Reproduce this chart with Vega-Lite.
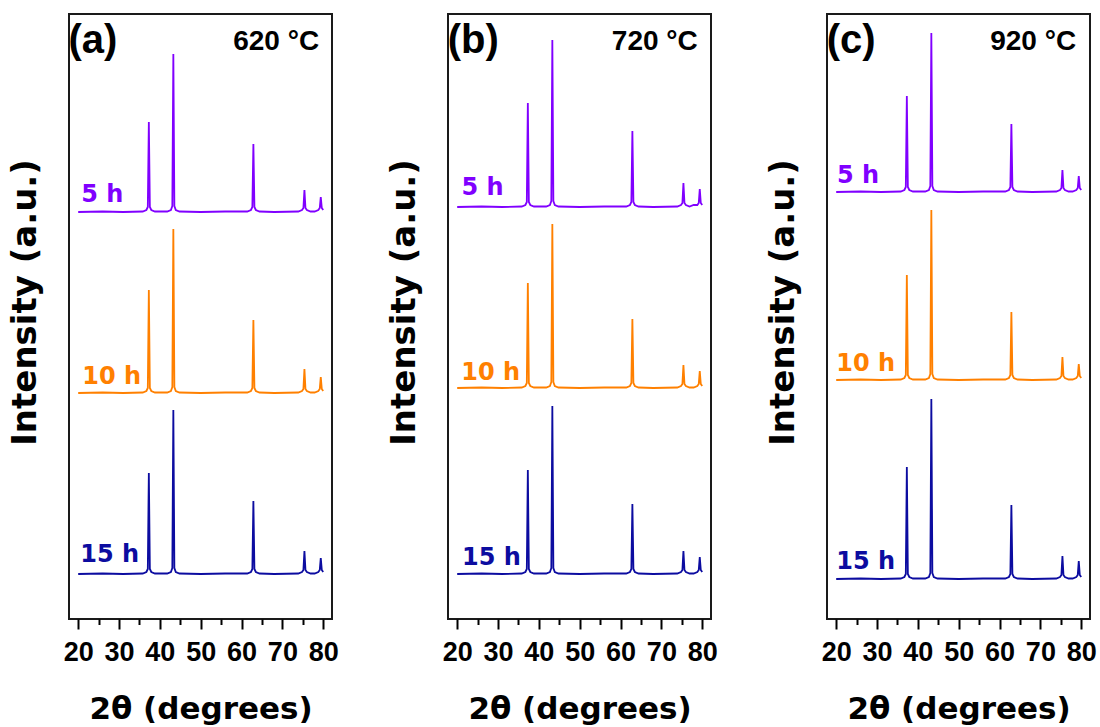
{
  "$schema": "https://vega.github.io/schema/vega-lite/v6.json",
  "background": "white",
  "padding": {"left": 7, "top": 13, "right": 0, "bottom": 0},
  "config": {
    "view": {"stroke": "#1a1a1a", "strokeWidth": 2},
    "concat": {"spacing": 46},
    "axis": {"grid": false, "domain": false}
  },
  "datasets": {
    "xrd": [
      {"p":"a","s":"5 h","x":20,"y":407},{"p":"a","s":"5 h","x":26,"y":407.5},{"p":"a","s":"5 h","x":31,"y":407},{"p":"a","s":"5 h","x":35.8,"y":407.5},{"p":"a","s":"5 h","x":36.7,"y":409},{"p":"a","s":"5 h","x":37.05,"y":412},{"p":"a","s":"5 h","x":37.3,"y":497},{"p":"a","s":"5 h","x":37.55,"y":412},{"p":"a","s":"5 h","x":37.9,"y":409},{"p":"a","s":"5 h","x":38.8,"y":407.5},
      {"p":"a","s":"5 h","x":41.8,"y":407.5},{"p":"a","s":"5 h","x":42.7,"y":409},{"p":"a","s":"5 h","x":43.05,"y":413},{"p":"a","s":"5 h","x":43.3,"y":565},{"p":"a","s":"5 h","x":43.55,"y":413},{"p":"a","s":"5 h","x":43.9,"y":409},{"p":"a","s":"5 h","x":44.8,"y":407.5},{"p":"a","s":"5 h","x":50,"y":407},{"p":"a","s":"5 h","x":56,"y":407.5},
      {"p":"a","s":"5 h","x":61.4,"y":407.5},{"p":"a","s":"5 h","x":62.3,"y":409},{"p":"a","s":"5 h","x":62.65,"y":412},{"p":"a","s":"5 h","x":62.9,"y":475},{"p":"a","s":"5 h","x":63.15,"y":412},{"p":"a","s":"5 h","x":63.5,"y":409},{"p":"a","s":"5 h","x":64.4,"y":407.5},{"p":"a","s":"5 h","x":68,"y":407},
      {"p":"a","s":"5 h","x":73.9,"y":407.5},{"p":"a","s":"5 h","x":74.8,"y":409},{"p":"a","s":"5 h","x":75.15,"y":411},{"p":"a","s":"5 h","x":75.4,"y":429},{"p":"a","s":"5 h","x":75.65,"y":411},{"p":"a","s":"5 h","x":76,"y":409},{"p":"a","s":"5 h","x":76.9,"y":407.5},
      {"p":"a","s":"5 h","x":77.9,"y":407.5},{"p":"a","s":"5 h","x":78.8,"y":409},{"p":"a","s":"5 h","x":79.15,"y":411},{"p":"a","s":"5 h","x":79.4,"y":422},{"p":"a","s":"5 h","x":79.65,"y":411},{"p":"a","s":"5 h","x":80,"y":409},

      {"p":"a","s":"10 h","x":20,"y":226},{"p":"a","s":"10 h","x":26,"y":226.5},{"p":"a","s":"10 h","x":31,"y":226},{"p":"a","s":"10 h","x":35.8,"y":226.5},{"p":"a","s":"10 h","x":36.7,"y":228},{"p":"a","s":"10 h","x":37.05,"y":231},{"p":"a","s":"10 h","x":37.3,"y":329},{"p":"a","s":"10 h","x":37.55,"y":231},{"p":"a","s":"10 h","x":37.9,"y":228},{"p":"a","s":"10 h","x":38.8,"y":226.5},
      {"p":"a","s":"10 h","x":41.8,"y":226.5},{"p":"a","s":"10 h","x":42.7,"y":228},{"p":"a","s":"10 h","x":43.05,"y":232},{"p":"a","s":"10 h","x":43.3,"y":390},{"p":"a","s":"10 h","x":43.55,"y":232},{"p":"a","s":"10 h","x":43.9,"y":228},{"p":"a","s":"10 h","x":44.8,"y":226.5},{"p":"a","s":"10 h","x":50,"y":226},{"p":"a","s":"10 h","x":56,"y":226.5},
      {"p":"a","s":"10 h","x":61.4,"y":226.5},{"p":"a","s":"10 h","x":62.3,"y":228},{"p":"a","s":"10 h","x":62.65,"y":231},{"p":"a","s":"10 h","x":62.9,"y":299},{"p":"a","s":"10 h","x":63.15,"y":231},{"p":"a","s":"10 h","x":63.5,"y":228},{"p":"a","s":"10 h","x":64.4,"y":226.5},{"p":"a","s":"10 h","x":68,"y":226},
      {"p":"a","s":"10 h","x":73.9,"y":226.5},{"p":"a","s":"10 h","x":74.8,"y":228},{"p":"a","s":"10 h","x":75.15,"y":230},{"p":"a","s":"10 h","x":75.4,"y":250},{"p":"a","s":"10 h","x":75.65,"y":230},{"p":"a","s":"10 h","x":76,"y":228},{"p":"a","s":"10 h","x":76.9,"y":226.5},
      {"p":"a","s":"10 h","x":77.9,"y":226.5},{"p":"a","s":"10 h","x":78.8,"y":228},{"p":"a","s":"10 h","x":79.15,"y":230},{"p":"a","s":"10 h","x":79.4,"y":242},{"p":"a","s":"10 h","x":79.65,"y":230},{"p":"a","s":"10 h","x":80,"y":228},

      {"p":"a","s":"15 h","x":20,"y":45},{"p":"a","s":"15 h","x":26,"y":45.5},{"p":"a","s":"15 h","x":31,"y":45},{"p":"a","s":"15 h","x":35.8,"y":45.5},{"p":"a","s":"15 h","x":36.7,"y":47},{"p":"a","s":"15 h","x":37.05,"y":50},{"p":"a","s":"15 h","x":37.3,"y":146},{"p":"a","s":"15 h","x":37.55,"y":50},{"p":"a","s":"15 h","x":37.9,"y":47},{"p":"a","s":"15 h","x":38.8,"y":45.5},
      {"p":"a","s":"15 h","x":41.8,"y":45.5},{"p":"a","s":"15 h","x":42.7,"y":47},{"p":"a","s":"15 h","x":43.05,"y":51},{"p":"a","s":"15 h","x":43.3,"y":209},{"p":"a","s":"15 h","x":43.55,"y":51},{"p":"a","s":"15 h","x":43.9,"y":47},{"p":"a","s":"15 h","x":44.8,"y":45.5},{"p":"a","s":"15 h","x":50,"y":45},{"p":"a","s":"15 h","x":56,"y":45.5},
      {"p":"a","s":"15 h","x":61.4,"y":45.5},{"p":"a","s":"15 h","x":62.3,"y":47},{"p":"a","s":"15 h","x":62.65,"y":50},{"p":"a","s":"15 h","x":62.9,"y":118},{"p":"a","s":"15 h","x":63.15,"y":50},{"p":"a","s":"15 h","x":63.5,"y":47},{"p":"a","s":"15 h","x":64.4,"y":45.5},{"p":"a","s":"15 h","x":68,"y":45},
      {"p":"a","s":"15 h","x":73.9,"y":45.5},{"p":"a","s":"15 h","x":74.8,"y":47},{"p":"a","s":"15 h","x":75.15,"y":49},{"p":"a","s":"15 h","x":75.4,"y":68},{"p":"a","s":"15 h","x":75.65,"y":49},{"p":"a","s":"15 h","x":76,"y":47},{"p":"a","s":"15 h","x":76.9,"y":45.5},
      {"p":"a","s":"15 h","x":77.9,"y":45.5},{"p":"a","s":"15 h","x":78.8,"y":47},{"p":"a","s":"15 h","x":79.15,"y":49},{"p":"a","s":"15 h","x":79.4,"y":61},{"p":"a","s":"15 h","x":79.65,"y":49},{"p":"a","s":"15 h","x":80,"y":47},

      {"p":"b","s":"5 h","x":20,"y":412},{"p":"b","s":"5 h","x":26,"y":412.5},{"p":"b","s":"5 h","x":31,"y":412},{"p":"b","s":"5 h","x":35.8,"y":412.5},{"p":"b","s":"5 h","x":36.7,"y":414},{"p":"b","s":"5 h","x":37.05,"y":417},{"p":"b","s":"5 h","x":37.3,"y":516},{"p":"b","s":"5 h","x":37.55,"y":417},{"p":"b","s":"5 h","x":37.9,"y":414},{"p":"b","s":"5 h","x":38.8,"y":412.5},
      {"p":"b","s":"5 h","x":41.8,"y":412.5},{"p":"b","s":"5 h","x":42.7,"y":414},{"p":"b","s":"5 h","x":43.05,"y":418},{"p":"b","s":"5 h","x":43.3,"y":579},{"p":"b","s":"5 h","x":43.55,"y":418},{"p":"b","s":"5 h","x":43.9,"y":414},{"p":"b","s":"5 h","x":44.8,"y":412.5},{"p":"b","s":"5 h","x":50,"y":412},{"p":"b","s":"5 h","x":56,"y":412.5},
      {"p":"b","s":"5 h","x":61.4,"y":412.5},{"p":"b","s":"5 h","x":62.3,"y":414},{"p":"b","s":"5 h","x":62.65,"y":417},{"p":"b","s":"5 h","x":62.9,"y":488},{"p":"b","s":"5 h","x":63.15,"y":417},{"p":"b","s":"5 h","x":63.5,"y":414},{"p":"b","s":"5 h","x":64.4,"y":412.5},{"p":"b","s":"5 h","x":68,"y":412},
      {"p":"b","s":"5 h","x":73.9,"y":412.5},{"p":"b","s":"5 h","x":74.8,"y":414},{"p":"b","s":"5 h","x":75.15,"y":416},{"p":"b","s":"5 h","x":75.4,"y":436},{"p":"b","s":"5 h","x":75.65,"y":416},{"p":"b","s":"5 h","x":76,"y":414},{"p":"b","s":"5 h","x":76.9,"y":412.5},
      {"p":"b","s":"5 h","x":77.9,"y":414},{"p":"b","s":"5 h","x":78.8,"y":414},{"p":"b","s":"5 h","x":79.15,"y":416},{"p":"b","s":"5 h","x":79.4,"y":430},{"p":"b","s":"5 h","x":79.65,"y":416},{"p":"b","s":"5 h","x":80,"y":414},

      {"p":"b","s":"10 h","x":20,"y":231},{"p":"b","s":"10 h","x":26,"y":231.5},{"p":"b","s":"10 h","x":31,"y":231},{"p":"b","s":"10 h","x":35.8,"y":231.5},{"p":"b","s":"10 h","x":36.7,"y":233},{"p":"b","s":"10 h","x":37.05,"y":236},{"p":"b","s":"10 h","x":37.3,"y":336},{"p":"b","s":"10 h","x":37.55,"y":236},{"p":"b","s":"10 h","x":37.9,"y":233},{"p":"b","s":"10 h","x":38.8,"y":231.5},
      {"p":"b","s":"10 h","x":41.8,"y":231.5},{"p":"b","s":"10 h","x":42.7,"y":233},{"p":"b","s":"10 h","x":43.05,"y":237},{"p":"b","s":"10 h","x":43.3,"y":395},{"p":"b","s":"10 h","x":43.55,"y":237},{"p":"b","s":"10 h","x":43.9,"y":233},{"p":"b","s":"10 h","x":44.8,"y":231.5},{"p":"b","s":"10 h","x":50,"y":231},{"p":"b","s":"10 h","x":56,"y":231.5},
      {"p":"b","s":"10 h","x":61.4,"y":231.5},{"p":"b","s":"10 h","x":62.3,"y":233},{"p":"b","s":"10 h","x":62.65,"y":236},{"p":"b","s":"10 h","x":62.9,"y":300},{"p":"b","s":"10 h","x":63.15,"y":236},{"p":"b","s":"10 h","x":63.5,"y":233},{"p":"b","s":"10 h","x":64.4,"y":231.5},{"p":"b","s":"10 h","x":68,"y":231},
      {"p":"b","s":"10 h","x":73.9,"y":231.5},{"p":"b","s":"10 h","x":74.8,"y":233},{"p":"b","s":"10 h","x":75.15,"y":235},{"p":"b","s":"10 h","x":75.4,"y":254},{"p":"b","s":"10 h","x":75.65,"y":235},{"p":"b","s":"10 h","x":76,"y":233},{"p":"b","s":"10 h","x":76.9,"y":231.5},
      {"p":"b","s":"10 h","x":77.9,"y":231.5},{"p":"b","s":"10 h","x":78.8,"y":233},{"p":"b","s":"10 h","x":79.15,"y":235},{"p":"b","s":"10 h","x":79.4,"y":248},{"p":"b","s":"10 h","x":79.65,"y":235},{"p":"b","s":"10 h","x":80,"y":233},

      {"p":"b","s":"15 h","x":20,"y":45},{"p":"b","s":"15 h","x":26,"y":45.5},{"p":"b","s":"15 h","x":31,"y":45},{"p":"b","s":"15 h","x":35.8,"y":45.5},{"p":"b","s":"15 h","x":36.7,"y":47},{"p":"b","s":"15 h","x":37.05,"y":50},{"p":"b","s":"15 h","x":37.3,"y":149},{"p":"b","s":"15 h","x":37.55,"y":50},{"p":"b","s":"15 h","x":37.9,"y":47},{"p":"b","s":"15 h","x":38.8,"y":45.5},
      {"p":"b","s":"15 h","x":41.8,"y":45.5},{"p":"b","s":"15 h","x":42.7,"y":47},{"p":"b","s":"15 h","x":43.05,"y":51},{"p":"b","s":"15 h","x":43.3,"y":213},{"p":"b","s":"15 h","x":43.55,"y":51},{"p":"b","s":"15 h","x":43.9,"y":47},{"p":"b","s":"15 h","x":44.8,"y":45.5},{"p":"b","s":"15 h","x":50,"y":45},{"p":"b","s":"15 h","x":56,"y":45.5},
      {"p":"b","s":"15 h","x":61.4,"y":45.5},{"p":"b","s":"15 h","x":62.3,"y":47},{"p":"b","s":"15 h","x":62.65,"y":50},{"p":"b","s":"15 h","x":62.9,"y":115},{"p":"b","s":"15 h","x":63.15,"y":50},{"p":"b","s":"15 h","x":63.5,"y":47},{"p":"b","s":"15 h","x":64.4,"y":45.5},{"p":"b","s":"15 h","x":68,"y":45},
      {"p":"b","s":"15 h","x":73.9,"y":45.5},{"p":"b","s":"15 h","x":74.8,"y":47},{"p":"b","s":"15 h","x":75.15,"y":49},{"p":"b","s":"15 h","x":75.4,"y":68},{"p":"b","s":"15 h","x":75.65,"y":49},{"p":"b","s":"15 h","x":76,"y":47},{"p":"b","s":"15 h","x":76.9,"y":45.5},
      {"p":"b","s":"15 h","x":77.9,"y":45.5},{"p":"b","s":"15 h","x":78.8,"y":47},{"p":"b","s":"15 h","x":79.15,"y":49},{"p":"b","s":"15 h","x":79.4,"y":62},{"p":"b","s":"15 h","x":79.65,"y":49},{"p":"b","s":"15 h","x":80,"y":47},

      {"p":"c","s":"5 h","x":20,"y":427},{"p":"c","s":"5 h","x":26,"y":427.5},{"p":"c","s":"5 h","x":31,"y":427},{"p":"c","s":"5 h","x":35.8,"y":427.5},{"p":"c","s":"5 h","x":36.7,"y":429},{"p":"c","s":"5 h","x":37.05,"y":432},{"p":"c","s":"5 h","x":37.3,"y":523},{"p":"c","s":"5 h","x":37.55,"y":432},{"p":"c","s":"5 h","x":37.9,"y":429},{"p":"c","s":"5 h","x":38.8,"y":427.5},
      {"p":"c","s":"5 h","x":41.8,"y":427.5},{"p":"c","s":"5 h","x":42.7,"y":429},{"p":"c","s":"5 h","x":43.05,"y":433},{"p":"c","s":"5 h","x":43.3,"y":586},{"p":"c","s":"5 h","x":43.55,"y":433},{"p":"c","s":"5 h","x":43.9,"y":429},{"p":"c","s":"5 h","x":44.8,"y":427.5},{"p":"c","s":"5 h","x":50,"y":427},{"p":"c","s":"5 h","x":56,"y":427.5},
      {"p":"c","s":"5 h","x":61.4,"y":427.5},{"p":"c","s":"5 h","x":62.3,"y":429},{"p":"c","s":"5 h","x":62.65,"y":432},{"p":"c","s":"5 h","x":62.9,"y":495},{"p":"c","s":"5 h","x":63.15,"y":432},{"p":"c","s":"5 h","x":63.5,"y":429},{"p":"c","s":"5 h","x":64.4,"y":427.5},{"p":"c","s":"5 h","x":68,"y":427},
      {"p":"c","s":"5 h","x":73.9,"y":427.5},{"p":"c","s":"5 h","x":74.8,"y":429},{"p":"c","s":"5 h","x":75.15,"y":431},{"p":"c","s":"5 h","x":75.4,"y":449},{"p":"c","s":"5 h","x":75.65,"y":431},{"p":"c","s":"5 h","x":76,"y":429},{"p":"c","s":"5 h","x":76.9,"y":427.5},
      {"p":"c","s":"5 h","x":77.9,"y":427.5},{"p":"c","s":"5 h","x":78.8,"y":429},{"p":"c","s":"5 h","x":79.15,"y":431},{"p":"c","s":"5 h","x":79.4,"y":443},{"p":"c","s":"5 h","x":79.65,"y":431},{"p":"c","s":"5 h","x":80,"y":429},

      {"p":"c","s":"10 h","x":20,"y":239},{"p":"c","s":"10 h","x":26,"y":239.5},{"p":"c","s":"10 h","x":31,"y":239},{"p":"c","s":"10 h","x":35.8,"y":239.5},{"p":"c","s":"10 h","x":36.7,"y":241},{"p":"c","s":"10 h","x":37.05,"y":244},{"p":"c","s":"10 h","x":37.3,"y":344},{"p":"c","s":"10 h","x":37.55,"y":244},{"p":"c","s":"10 h","x":37.9,"y":241},{"p":"c","s":"10 h","x":38.8,"y":239.5},
      {"p":"c","s":"10 h","x":41.8,"y":239.5},{"p":"c","s":"10 h","x":42.7,"y":241},{"p":"c","s":"10 h","x":43.05,"y":245},{"p":"c","s":"10 h","x":43.3,"y":409},{"p":"c","s":"10 h","x":43.55,"y":245},{"p":"c","s":"10 h","x":43.9,"y":241},{"p":"c","s":"10 h","x":44.8,"y":239.5},{"p":"c","s":"10 h","x":50,"y":239},{"p":"c","s":"10 h","x":56,"y":239.5},
      {"p":"c","s":"10 h","x":61.4,"y":239.5},{"p":"c","s":"10 h","x":62.3,"y":241},{"p":"c","s":"10 h","x":62.65,"y":244},{"p":"c","s":"10 h","x":62.9,"y":307},{"p":"c","s":"10 h","x":63.15,"y":244},{"p":"c","s":"10 h","x":63.5,"y":241},{"p":"c","s":"10 h","x":64.4,"y":239.5},{"p":"c","s":"10 h","x":68,"y":239},
      {"p":"c","s":"10 h","x":73.9,"y":239.5},{"p":"c","s":"10 h","x":74.8,"y":241},{"p":"c","s":"10 h","x":75.15,"y":243},{"p":"c","s":"10 h","x":75.4,"y":262},{"p":"c","s":"10 h","x":75.65,"y":243},{"p":"c","s":"10 h","x":76,"y":241},{"p":"c","s":"10 h","x":76.9,"y":239.5},
      {"p":"c","s":"10 h","x":77.9,"y":239.5},{"p":"c","s":"10 h","x":78.8,"y":241},{"p":"c","s":"10 h","x":79.15,"y":243},{"p":"c","s":"10 h","x":79.4,"y":255},{"p":"c","s":"10 h","x":79.65,"y":243},{"p":"c","s":"10 h","x":80,"y":241},

      {"p":"c","s":"15 h","x":20,"y":40},{"p":"c","s":"15 h","x":26,"y":40.5},{"p":"c","s":"15 h","x":31,"y":40},{"p":"c","s":"15 h","x":35.8,"y":40.5},{"p":"c","s":"15 h","x":36.7,"y":42},{"p":"c","s":"15 h","x":37.05,"y":45},{"p":"c","s":"15 h","x":37.3,"y":152},{"p":"c","s":"15 h","x":37.55,"y":45},{"p":"c","s":"15 h","x":37.9,"y":42},{"p":"c","s":"15 h","x":38.8,"y":40.5},
      {"p":"c","s":"15 h","x":41.8,"y":40.5},{"p":"c","s":"15 h","x":42.7,"y":42},{"p":"c","s":"15 h","x":43.05,"y":46},{"p":"c","s":"15 h","x":43.3,"y":220},{"p":"c","s":"15 h","x":43.55,"y":46},{"p":"c","s":"15 h","x":43.9,"y":42},{"p":"c","s":"15 h","x":44.8,"y":40.5},{"p":"c","s":"15 h","x":50,"y":40},{"p":"c","s":"15 h","x":56,"y":40.5},
      {"p":"c","s":"15 h","x":61.4,"y":40.5},{"p":"c","s":"15 h","x":62.3,"y":42},{"p":"c","s":"15 h","x":62.65,"y":45},{"p":"c","s":"15 h","x":62.9,"y":114},{"p":"c","s":"15 h","x":63.15,"y":45},{"p":"c","s":"15 h","x":63.5,"y":42},{"p":"c","s":"15 h","x":64.4,"y":40.5},{"p":"c","s":"15 h","x":68,"y":40},
      {"p":"c","s":"15 h","x":73.9,"y":40.5},{"p":"c","s":"15 h","x":74.8,"y":42},{"p":"c","s":"15 h","x":75.15,"y":44},{"p":"c","s":"15 h","x":75.4,"y":63},{"p":"c","s":"15 h","x":75.65,"y":44},{"p":"c","s":"15 h","x":76,"y":42},{"p":"c","s":"15 h","x":76.9,"y":40.5},
      {"p":"c","s":"15 h","x":77.9,"y":40.5},{"p":"c","s":"15 h","x":78.8,"y":42},{"p":"c","s":"15 h","x":79.15,"y":44},{"p":"c","s":"15 h","x":79.4,"y":58},{"p":"c","s":"15 h","x":79.65,"y":44},{"p":"c","s":"15 h","x":80,"y":42}
    ],
    "notes": [
      {"p":"a","k":"series","s":"5 h","label":"5 h","x":20.74,"y":417},
      {"p":"a","k":"series","s":"10 h","label":"10 h","x":20.98,"y":235},
      {"p":"a","k":"series","s":"15 h","label":"15 h","x":20.5,"y":57},
      {"p":"b","k":"series","s":"5 h","label":"5 h","x":21.05,"y":424},
      {"p":"b","k":"series","s":"10 h","label":"10 h","x":20.98,"y":239},
      {"p":"b","k":"series","s":"15 h","label":"15 h","x":21.2,"y":54},
      {"p":"c","k":"series","s":"5 h","label":"5 h","x":20.2,"y":436},
      {"p":"c","k":"series","s":"10 h","label":"10 h","x":20.0,"y":248},
      {"p":"c","k":"series","s":"15 h","label":"15 h","x":20.0,"y":50},
      {"p":"a","k":"tag","label":"(a)","x":17.6,"y":566},
      {"p":"b","k":"tag","label":"(b)","x":17.7,"y":566},
      {"p":"c","k":"tag","label":"(c)","x":17.7,"y":566},
      {"p":"a","k":"temp","label":"620 °C","x":79.0,"y":569},
      {"p":"b","k":"temp","label":"720 °C","x":78.9,"y":569},
      {"p":"c","k":"temp","label":"920 °C","x":78.75,"y":569}
    ]
  },
  "hconcat": [
    {
      "width": 263, "height": 605,
      "resolve": {"axis": {"x": "independent"}},
      "layer": [
        {
          "data": {"name": "xrd"},
          "transform": [{"filter": "datum.p === 'a'"}],
          "mark": {"type": "line", "strokeWidth": 1.8},
          "encoding": {
            "x": {"field": "x", "type": "quantitative", "scale": {"domain": [17.75, 82.15], "nice": false, "zero": false},
              "axis": {"orient": "bottom", "values": [20,30,40,50,60,70,80], "tickSize": 10, "tickWidth": 2, "tickColor": "#000", "labelFont": "Liberation Sans", "labelFontSize": 27, "labelFontWeight": "bold", "labelColor": "#000", "labelPadding": 10, "labelFlush": false, "title": "2θ (degrees)", "titleFont": "DejaVu Sans", "titleFontSize": 31, "titleFontWeight": "bold", "titleColor": "#000", "titlePadding": 29}},
            "y": {"field": "y", "type": "quantitative", "scale": {"domain": [0, 605], "nice": false, "zero": false},
              "axis": {"title": "Intensity (a.u.)", "ticks": false, "labels": false, "titleFont": "DejaVu Sans", "titleFontSize": 34, "titleFontWeight": "bold", "titleColor": "#000", "titlePadding": 27, "titleY": 288}},
            "color": {"field": "s", "type": "nominal", "scale": {"domain": ["5 h", "10 h", "15 h"], "range": ["#8000ff", "#ff8000", "#0c0ca0"]}, "legend": null}
          }
        },
        {
          "data": {"name": "notes"},
          "transform": [{"filter": "datum.p === 'a' && datum.k === 'series'"}],
          "mark": {"type": "text", "align": "left", "baseline": "alphabetic", "font": "DejaVu Sans", "fontSize": 24, "fontWeight": "bold"},
          "encoding": {
            "x": {"field": "x", "type": "quantitative", "axis": {"orient": "bottom", "values": [25,35,45,55,65,75], "tickSize": 5.5, "tickWidth": 2, "tickColor": "#000", "labels": false, "title": null}},
            "y": {"field": "y", "type": "quantitative"},
            "text": {"field": "label"},
            "color": {"field": "s", "type": "nominal", "legend": null}
          }
        },
        {
          "data": {"name": "notes"},
          "transform": [{"filter": "datum.p === 'a' && datum.k === 'tag'"}],
          "mark": {"type": "text", "align": "left", "baseline": "alphabetic", "font": "Liberation Sans", "fontSize": 40, "fontWeight": "bold", "color": "#000"},
          "encoding": {
            "x": {"field": "x", "type": "quantitative", "axis": null},
            "y": {"field": "y", "type": "quantitative"},
            "text": {"field": "label"}
          }
        },
        {
          "data": {"name": "notes"},
          "transform": [{"filter": "datum.p === 'a' && datum.k === 'temp'"}],
          "mark": {"type": "text", "align": "right", "baseline": "alphabetic", "font": "Liberation Sans", "fontSize": 28, "fontWeight": "bold", "color": "#000"},
          "encoding": {
            "x": {"field": "x", "type": "quantitative", "axis": null},
            "y": {"field": "y", "type": "quantitative"},
            "text": {"field": "label"}
          }
        }
      ]
    },
    {
      "width": 263, "height": 605,
      "resolve": {"axis": {"x": "independent"}},
      "layer": [
        {
          "data": {"name": "xrd"},
          "transform": [{"filter": "datum.p === 'b'"}],
          "mark": {"type": "line", "strokeWidth": 1.8},
          "encoding": {
            "x": {"field": "x", "type": "quantitative", "scale": {"domain": [17.75, 82.15], "nice": false, "zero": false},
              "axis": {"orient": "bottom", "values": [20,30,40,50,60,70,80], "tickSize": 10, "tickWidth": 2, "tickColor": "#000", "labelFont": "Liberation Sans", "labelFontSize": 27, "labelFontWeight": "bold", "labelColor": "#000", "labelPadding": 10, "labelFlush": false, "title": "2θ (degrees)", "titleFont": "DejaVu Sans", "titleFontSize": 31, "titleFontWeight": "bold", "titleColor": "#000", "titlePadding": 29}},
            "y": {"field": "y", "type": "quantitative", "scale": {"domain": [0, 605], "nice": false, "zero": false},
              "axis": {"title": "Intensity (a.u.)", "ticks": false, "labels": false, "titleFont": "DejaVu Sans", "titleFontSize": 34, "titleFontWeight": "bold", "titleColor": "#000", "titlePadding": 27, "titleY": 288}},
            "color": {"field": "s", "type": "nominal", "scale": {"domain": ["5 h", "10 h", "15 h"], "range": ["#8000ff", "#ff8000", "#0c0ca0"]}, "legend": null}
          }
        },
        {
          "data": {"name": "notes"},
          "transform": [{"filter": "datum.p === 'b' && datum.k === 'series'"}],
          "mark": {"type": "text", "align": "left", "baseline": "alphabetic", "font": "DejaVu Sans", "fontSize": 24, "fontWeight": "bold"},
          "encoding": {
            "x": {"field": "x", "type": "quantitative", "axis": {"orient": "bottom", "values": [25,35,45,55,65,75], "tickSize": 5.5, "tickWidth": 2, "tickColor": "#000", "labels": false, "title": null}},
            "y": {"field": "y", "type": "quantitative"},
            "text": {"field": "label"},
            "color": {"field": "s", "type": "nominal", "legend": null}
          }
        },
        {
          "data": {"name": "notes"},
          "transform": [{"filter": "datum.p === 'b' && datum.k === 'tag'"}],
          "mark": {"type": "text", "align": "left", "baseline": "alphabetic", "font": "Liberation Sans", "fontSize": 40, "fontWeight": "bold", "color": "#000"},
          "encoding": {
            "x": {"field": "x", "type": "quantitative", "axis": null},
            "y": {"field": "y", "type": "quantitative"},
            "text": {"field": "label"}
          }
        },
        {
          "data": {"name": "notes"},
          "transform": [{"filter": "datum.p === 'b' && datum.k === 'temp'"}],
          "mark": {"type": "text", "align": "right", "baseline": "alphabetic", "font": "Liberation Sans", "fontSize": 28, "fontWeight": "bold", "color": "#000"},
          "encoding": {
            "x": {"field": "x", "type": "quantitative", "axis": null},
            "y": {"field": "y", "type": "quantitative"},
            "text": {"field": "label"}
          }
        }
      ]
    },
    {
      "width": 263, "height": 605,
      "resolve": {"axis": {"x": "independent"}},
      "layer": [
        {
          "data": {"name": "xrd"},
          "transform": [{"filter": "datum.p === 'c'"}],
          "mark": {"type": "line", "strokeWidth": 1.8},
          "encoding": {
            "x": {"field": "x", "type": "quantitative", "scale": {"domain": [17.75, 82.15], "nice": false, "zero": false},
              "axis": {"orient": "bottom", "values": [20,30,40,50,60,70,80], "tickSize": 10, "tickWidth": 2, "tickColor": "#000", "labelFont": "Liberation Sans", "labelFontSize": 27, "labelFontWeight": "bold", "labelColor": "#000", "labelPadding": 10, "labelFlush": false, "title": "2θ (degrees)", "titleFont": "DejaVu Sans", "titleFontSize": 31, "titleFontWeight": "bold", "titleColor": "#000", "titlePadding": 29}},
            "y": {"field": "y", "type": "quantitative", "scale": {"domain": [0, 605], "nice": false, "zero": false},
              "axis": {"title": "Intensity (a.u.)", "ticks": false, "labels": false, "titleFont": "DejaVu Sans", "titleFontSize": 34, "titleFontWeight": "bold", "titleColor": "#000", "titlePadding": 27, "titleY": 288}},
            "color": {"field": "s", "type": "nominal", "scale": {"domain": ["5 h", "10 h", "15 h"], "range": ["#8000ff", "#ff8000", "#0c0ca0"]}, "legend": null}
          }
        },
        {
          "data": {"name": "notes"},
          "transform": [{"filter": "datum.p === 'c' && datum.k === 'series'"}],
          "mark": {"type": "text", "align": "left", "baseline": "alphabetic", "font": "DejaVu Sans", "fontSize": 24, "fontWeight": "bold"},
          "encoding": {
            "x": {"field": "x", "type": "quantitative", "axis": {"orient": "bottom", "values": [25,35,45,55,65,75], "tickSize": 5.5, "tickWidth": 2, "tickColor": "#000", "labels": false, "title": null}},
            "y": {"field": "y", "type": "quantitative"},
            "text": {"field": "label"},
            "color": {"field": "s", "type": "nominal", "legend": null}
          }
        },
        {
          "data": {"name": "notes"},
          "transform": [{"filter": "datum.p === 'c' && datum.k === 'tag'"}],
          "mark": {"type": "text", "align": "left", "baseline": "alphabetic", "font": "Liberation Sans", "fontSize": 40, "fontWeight": "bold", "color": "#000"},
          "encoding": {
            "x": {"field": "x", "type": "quantitative", "axis": null},
            "y": {"field": "y", "type": "quantitative"},
            "text": {"field": "label"}
          }
        },
        {
          "data": {"name": "notes"},
          "transform": [{"filter": "datum.p === 'c' && datum.k === 'temp'"}],
          "mark": {"type": "text", "align": "right", "baseline": "alphabetic", "font": "Liberation Sans", "fontSize": 28, "fontWeight": "bold", "color": "#000"},
          "encoding": {
            "x": {"field": "x", "type": "quantitative", "axis": null},
            "y": {"field": "y", "type": "quantitative"},
            "text": {"field": "label"}
          }
        }
      ]
    }
  ]
}
